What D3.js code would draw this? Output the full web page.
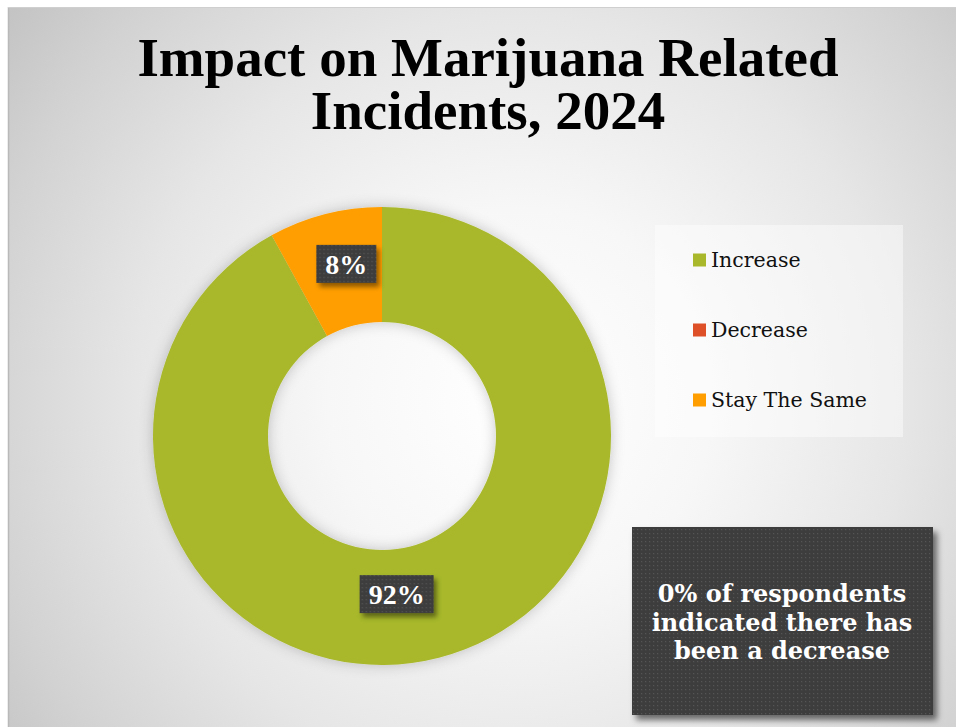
<!DOCTYPE html>
<html>
<head>
<meta charset="utf-8">
<script src="https://cdn.jsdelivr.net/npm/d3@7"></script>
<style>
  html, body { margin: 0; padding: 0; background: #ffffff; }
  svg { display: block; }
</style>
</head>
<body>
<svg id="chart" width="956" height="727"></svg>
<script>
// Survey responses: share of respondents per answer
const categories = ["Increase", "Decrease", "Stay The Same"];
const values = [92, 0, 8];
const colors = ["#a8b82a", "#de5128", "#ff9e00"];
const titleLines = ["Impact on Marijuana Related", "Incidents, 2024"];
const noteLines = ["0% of respondents", "indicated there has", "been a decrease"];

const W = 956, H = 727;
const svg = d3.select("#chart");
const defs = svg.append("defs");

// slide background: soft radial light
const bg = defs.append("radialGradient")
  .attr("id", "bgGrad")
  .attr("gradientUnits", "userSpaceOnUse")
  .attr("cx", 520).attr("cy", 400).attr("r", 640);
[[0, "#ffffff"], [0.3, "#f7f7f7"], [0.6, "#e6e6e6"], [0.85, "#d2d2d2"], [1, "#c4c4c4"]]
  .forEach(([o, c]) => bg.append("stop").attr("offset", o).attr("stop-color", c));

// dotted texture for the dark callouts
const pat = defs.append("pattern")
  .attr("id", "dots")
  .attr("patternUnits", "userSpaceOnUse")
  .attr("width", 4).attr("height", 4);
pat.append("rect").attr("width", 4).attr("height", 4).attr("fill", "#3e3e3e");
pat.append("rect").attr("x", 1).attr("y", 1).attr("width", 1.2).attr("height", 1.2).attr("fill", "#555555");

// soft glow around the ring
const glow = defs.append("filter").attr("id", "ringGlow")
  .attr("x", "-20%").attr("y", "-20%").attr("width", "140%").attr("height", "140%");
glow.append("feGaussianBlur").attr("in", "SourceAlpha").attr("stdDeviation", 7).attr("result", "b");
glow.append("feFlood").attr("flood-color", "#000").attr("flood-opacity", 0.22).attr("result", "f");
glow.append("feComposite").attr("in", "f").attr("in2", "b").attr("operator", "in").attr("result", "s");
const gm = glow.append("feMerge");
gm.append("feMergeNode").attr("in", "s");
gm.append("feMergeNode").attr("in", "SourceGraphic");

// offset drop shadow for boxes
function dropShadow(id, dx, dy, sd, op) {
  const f = defs.append("filter").attr("id", id)
    .attr("x", "-20%").attr("y", "-30%").attr("width", "150%").attr("height", "170%");
  f.append("feGaussianBlur").attr("in", "SourceAlpha").attr("stdDeviation", sd).attr("result", "b");
  f.append("feOffset").attr("in", "b").attr("dx", dx).attr("dy", dy).attr("result", "o");
  f.append("feFlood").attr("flood-color", "#000").attr("flood-opacity", op).attr("result", "c");
  f.append("feComposite").attr("in", "c").attr("in2", "o").attr("operator", "in").attr("result", "s");
  const m = f.append("feMerge");
  m.append("feMergeNode").attr("in", "s");
  m.append("feMergeNode").attr("in", "SourceGraphic");
}
dropShadow("boxShadow", 4, 5, 3, 0.55);
dropShadow("tagShadow", 3, 4, 2.5, 0.45);

// slide
svg.append("rect").attr("x", 0).attr("y", 0).attr("width", W).attr("height", H).attr("fill", "#ffffff");
svg.append("rect").attr("x", 8).attr("y", 7).attr("width", W - 8).attr("height", H - 7)
  .attr("fill", "url(#bgGrad)");
svg.append("line").attr("x1", 8.5).attr("x2", 8.5).attr("y1", 7).attr("y2", H)
  .attr("stroke", "#b9b9b9").attr("stroke-width", 1.5);
svg.append("line").attr("x1", 8).attr("x2", W).attr("y1", 7.5).attr("y2", 7.5)
  .attr("stroke", "#cfcfcf").attr("stroke-width", 1);

// title, one text per line
svg.append("g")
  .selectAll("text").data(titleLines).join("text")
  .attr("x", 488).attr("y", (d, i) => 76 + i * 53)
  .attr("text-anchor", "middle")
  .attr("font-family", "'Liberation Serif', serif")
  .attr("font-weight", "bold")
  .attr("font-size", 55)
  .attr("fill", "#000")
  .text(d => d);

// donut
const cx = 382, cy = 436, rOuter = 229, rInner = 114;
const data = categories.map((c, i) => ({ category: c, value: values[i], color: colors[i] }));
const pie = d3.pie().sort(null).value(d => d.value);
const arcs = pie(data);
const arc = d3.arc().innerRadius(rInner).outerRadius(rOuter);
const ring = svg.append("g").attr("transform", `translate(${cx},${cy})`);
ring.append("g").attr("filter", "url(#ringGlow)")
  .selectAll("path").data(arcs.filter(a => a.data.value > 0)).join("path")
  .attr("d", arc)
  .attr("fill", d => d.data.color);

// value tags sit near each slice's centroid
const labelArc = d3.arc().innerRadius(rInner).outerRadius(rOuter);
const tagNudge = { "Increase": [-28, -8], "Stay The Same": [7, -6] };
const tags = ring.selectAll("g.tag").data(arcs.filter(a => a.data.value > 0)).join("g")
  .attr("class", "tag")
  .attr("transform", d => {
    const [x, y] = labelArc.centroid(d);
    const n = tagNudge[d.data.category] || [0, 0];
    return `translate(${x + n[0]},${y + n[1]})`;
  });
tags.each(function(d) {
  const g = d3.select(this);
  const t = g.append("text")
    .attr("text-anchor", "middle")
    .attr("dy", "0.35em")
    .attr("font-family", "'Liberation Serif', serif")
    .attr("font-weight", "bold")
    .attr("font-size", 28)
    .attr("fill", "#ffffff")
    .text(d3.format(".0%")(d.data.value / d3.sum(values)));
  const w = t.node().getComputedTextLength() + 18;
  g.insert("rect", "text")
    .attr("x", -w / 2).attr("y", -19).attr("width", w).attr("height", 38)
    .attr("fill", "url(#dots)")
    .attr("filter", "url(#tagShadow)");
});

// legend
const lg = svg.append("g");
lg.append("rect").attr("x", 655).attr("y", 225).attr("width", 248).attr("height", 212)
  .attr("fill", "#ffffff").attr("fill-opacity", 0.45);
const ly = d3.scalePoint().domain(categories).range([260, 400]);
const item = lg.selectAll("g.item").data(data).join("g")
  .attr("class", "item")
  .attr("transform", d => `translate(693,${ly(d.category)})`);
item.append("rect").attr("x", 0).attr("y", -6.5).attr("width", 13).attr("height", 13)
  .attr("fill", d => d.color);
item.append("text").attr("x", 18).attr("dy", "0.35em")
  .attr("font-family", "'DejaVu Serif', serif")
  .attr("font-size", 20.5)
  .attr("fill", "#111")
  .text(d => d.category);

// callout box
const nb = svg.append("g");
nb.append("rect").attr("x", 632).attr("y", 527).attr("width", 301).attr("height", 188)
  .attr("fill", "url(#dots)").attr("filter", "url(#boxShadow)");
nb.append("text")
  .attr("text-anchor", "middle")
  .attr("font-family", "'DejaVu Serif', serif")
  .attr("font-weight", "bold")
  .attr("font-size", 24)
  .attr("fill", "#ffffff")
  .selectAll("tspan").data(noteLines).join("tspan")
  .attr("x", 782).attr("y", (d, i) => 602 + i * 28.5)
  .text(d => d);
</script>
</body>
</html>
